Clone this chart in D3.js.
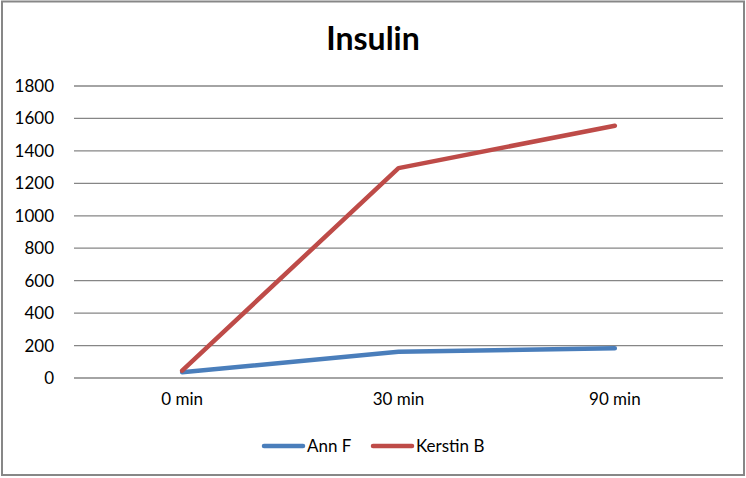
<!DOCTYPE html>
<html>
<head>
<meta charset="utf-8">
<script src="https://d3js.org/d3.v7.min.js"></script>
<style>
  body { margin: 0; background: #fff; }
  svg { display: block; font-family: Lato, "Open Sans", sans-serif; }
</style>
</head>
<body>
<svg></svg>
<script>
const categories = ["0 min", "30 min", "90 min"];
const annF = [35, 162, 183];
const kerstinB = [45, 1294, 1555];
const yTicks = [0, 200, 400, 600, 800, 1000, 1200, 1400, 1600, 1800];
const seriesNames = ["Ann F", "Kerstin B"];
const colors = ["#4a7ebb", "#be4b48"];

const width = 746, height = 478;
const margin = { top: 86, right: 23, bottom: 100, left: 74 };

const svg = d3.select("svg").attr("width", width).attr("height", height);

// outer frame
svg.append("rect")
  .attr("x", 2).attr("y", 1.5)
  .attr("width", 742).attr("height", 473.5)
  .attr("fill", "#fff")
  .attr("stroke", "#878787")
  .attr("stroke-width", 2);

const x = d3.scaleBand()
  .domain(categories)
  .range([margin.left, width - margin.right]);

const y = d3.scaleLinear()
  .domain([0, 1800])
  .range([height - margin.bottom, margin.top]);

// gridlines
svg.append("g")
  .selectAll("line")
  .data(yTicks)
  .join("line")
  .attr("x1", margin.left)
  .attr("x2", width - margin.right)
  .attr("y1", d => y(d))
  .attr("y2", d => y(d))
  .attr("stroke", "#868686")
  .attr("stroke-width", 1.3);

// y axis labels
const yAxis = d3.axisLeft(y).tickValues(yTicks).tickFormat(d3.format("d")).tickSize(0).tickPadding(20);
svg.append("g")
  .attr("transform", `translate(${margin.left},0)`)
  .call(yAxis)
  .call(g => g.select(".domain").remove())
  .selectAll("text")
  .attr("font-size", 17)
  .attr("font-family", "Lato, sans-serif")
  .attr("fill", "#000");

// x axis labels
const xAxis = d3.axisBottom(x).tickSize(0).tickPadding(15);
svg.append("g")
  .attr("transform", `translate(0,${y(0)})`)
  .call(xAxis)
  .call(g => g.select(".domain").remove())
  .selectAll("text")
  .attr("font-size", 17)
  .attr("font-family", "Lato, sans-serif")
  .attr("fill", "#000");

// lines
const line = d3.line()
  .x((d, i) => x(categories[i]) + x.bandwidth() / 2)
  .y(d => y(d));

[annF, kerstinB].forEach((s, i) => {
  svg.append("path")
    .datum(s)
    .attr("d", line)
    .attr("fill", "none")
    .attr("stroke", colors[i])
    .attr("stroke-width", 4.5)
    .attr("stroke-linejoin", "round")
    .attr("stroke-linecap", "round");
});

// title
svg.append("text")
  .attr("x", 373)
  .attr("y", 50)
  .attr("text-anchor", "middle")
  .attr("font-size", 32)
  .attr("font-weight", "bold")
  .text("Insulin");

// legend
const legendX = [264, 373];
const legend = svg.append("g").selectAll("g")
  .data(seriesNames)
  .join("g")
  .attr("transform", (d, i) => `translate(${legendX[i]},446)`);

legend.append("line")
  .attr("x1", 0).attr("x2", 39)
  .attr("stroke", (d, i) => colors[i])
  .attr("stroke-width", 4.5)
  .attr("stroke-linecap", "round");

legend.append("text")
  .attr("x", 43)
  .attr("y", 6)
  .attr("font-size", 17)
  .text(d => d);
</script>
</body>
</html>
